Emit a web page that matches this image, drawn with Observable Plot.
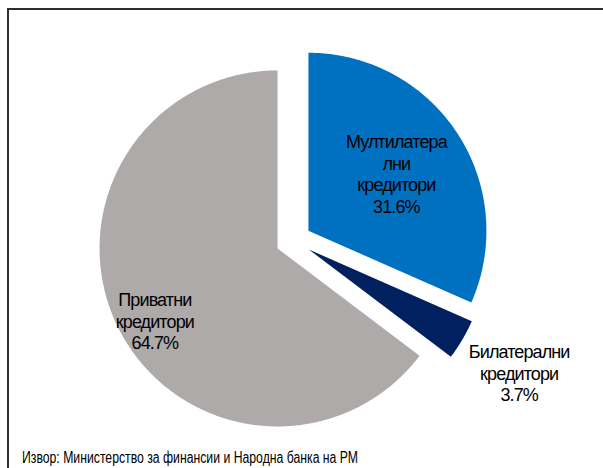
<!DOCTYPE html>
<html>
<head>
<meta charset="utf-8">
<script src="https://cdn.jsdelivr.net/npm/d3@7"></script>
<script src="https://cdn.jsdelivr.net/npm/@observablehq/plot@0.6"></script>
<style>
  html, body { margin: 0; padding: 0; background: #fff; }
  body { width: 603px; height: 468px; position: relative; overflow: hidden; font-family: "Liberation Sans", Arial, sans-serif; }
  #frame { position: absolute; left: 7px; top: 8px; width: 620px; height: 480px; border-top: 2px solid #2e2e2e; border-left: 2px solid #2e2e2e; }
  #chart { position: absolute; left: 0; top: 0; }
  #chart text { letter-spacing: -0.9px; }
  #caption { position: absolute; left: 22px; top: 449px; font-size: 16px; line-height: 17px; color: #000; white-space: nowrap; transform-origin: 0 0; }
</style>
</head>
<body>
<div id="frame"></div>
<div id="chart"></div>
<div id="caption">Извор: Министерство за финансии и Народна банка на РМ</div>
<script>
// Data
const categories = ["Мултилатерални кредитори", "Билатерални кредитори", "Приватни кредитори"];
const labelTexts = ["Мултилатера\nлни\nкредитори", "Билатерални\nкредитори", "Приватни\nкредитори"];
const shares = [31.6, 3.7, 64.7];
const colors = ["#0070C0", "#002060", "#AEAAAA"];

// Styling (not data)
const explode = 0.1;
const labelRadius = [0.69, 1.47, 0.90];
const labelAngleShift = [0, 0, -3.6 * Math.PI / 180];

const arcs = d3.pie().sort(null).value(d => d)(shares);

const slicePoints = [];
arcs.forEach((a, i) => {
  const mid = (a.startAngle + a.endAngle) / 2;
  const ox = explode * Math.sin(mid), oy = explode * Math.cos(mid);
  slicePoints.push({cat: categories[i], x: ox, y: oy});
  const n = Math.max(2, Math.ceil((a.endAngle - a.startAngle) / (Math.PI / 360)));
  for (let k = 0; k <= n; k++) {
    const t = a.startAngle + (a.endAngle - a.startAngle) * k / n;
    slicePoints.push({cat: categories[i], x: ox + Math.sin(t), y: oy + Math.cos(t)});
  }
  slicePoints.push({cat: categories[i], x: ox, y: oy});
});

const labelData = arcs.map((a, i) => {
  const mid = (a.startAngle + a.endAngle) / 2 + labelAngleShift[i];
  return {
    cat: categories[i],
    x: labelRadius[i] * Math.sin(mid),
    y: labelRadius[i] * Math.cos(mid),
    text: labelTexts[i] + "\n" + shares[i].toFixed(1) + "%"
  };
});

const chart = Plot.plot({
  width: 603,
  height: 440,
  margin: 0,
  style: {background: "transparent", overflow: "visible"},
  x: {domain: [-1, 1], range: [115, 471], axis: null},
  y: {domain: [-1, 1], range: [418, 62], axis: null},
  color: {domain: categories, range: colors},
  marks: [
    Plot.line(slicePoints, {x: "x", y: "y", z: "cat", fill: "cat", stroke: "none", curve: "linear"}),
    Plot.text(labelData, {
      x: "x", y: "y", text: "text",
      fontSize: 18, lineHeight: 1.2,
      fill: "#000",
      fontFamily: "'Liberation Sans', Arial, sans-serif"
    })
  ]
});
document.getElementById("chart").appendChild(chart);

// Fit the (condensed) source caption to its width in the reference
const cap = document.getElementById("caption");
const w = cap.getBoundingClientRect().width;
cap.style.transform = `scaleX(${336 / w})`;
</script>
</body>
</html>
